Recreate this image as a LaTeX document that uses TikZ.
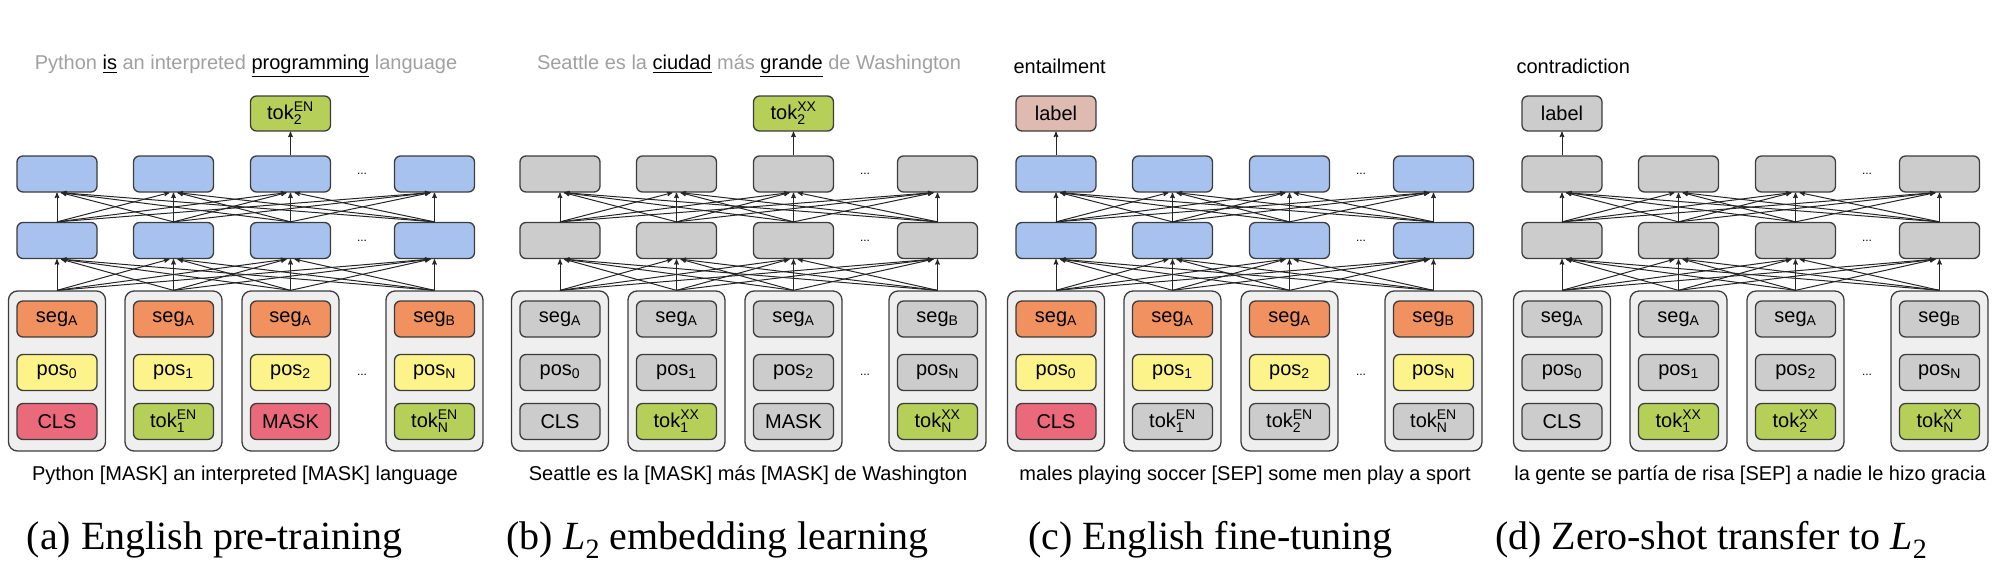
\documentclass[tikz,border=0pt]{standalone}
\usepackage{amsmath}
\usepackage{fontspec}
\setmainfont{Liberation Serif}
\setsansfont{Liberation Sans}
\usetikzlibrary{arrows,positioning}

\definecolor{boxline}{HTML}{3C3C3C}
\definecolor{layerblue}{HTML}{A7C2EE}
\definecolor{segorange}{HTML}{F0915F}
\definecolor{posyellow}{HTML}{FCF38A}
\definecolor{clspink}{HTML}{EA6A7C}
\definecolor{tokgreen}{HTML}{B5CF59}
\definecolor{labelrose}{HTML}{DFBAB0}
\definecolor{cellgrey}{HTML}{CCCCCC}
\definecolor{embgrey}{HTML}{EFEFEF}
\definecolor{textgrey}{HTML}{A0A0A0}

\newcommand{\tk}[2]{tok$^{\text{#1}}_{\text{#2}}$}
\newcommand{\ul}[1]{{\color{black}\underline{#1}}}
\newcommand{\Ltwo}{\textit{L}\raisebox{-0.22em}{\fontsize{28}{30}\selectfont 2}}

\tikzset{
  fig/.style={font=\sffamily\fontsize{20}{24}\selectfont},
  cell/.style={fig, draw=boxline, line width=1.3pt, rounded corners=6pt,
    minimum width=80pt, minimum height=36pt, inner sep=0pt},
  emb/.style={draw=boxline, line width=1.3pt, rounded corners=9pt, fill=embgrey,
    minimum width=97pt, minimum height=160pt, inner sep=0pt},
  bluecell/.style={fill=layerblue},
  greycell/.style={fill=cellgrey},
  segcell/.style={fill=segorange},
  poscell/.style={fill=posyellow},
  clscell/.style={fill=clspink},
  tokcell/.style={fill=tokgreen},
  labelcell/.style={fill=labelrose},
  link/.style={->, >=stealth', line width=1pt, draw=black!85},
  dots/.style={font=\sffamily\fontsize{12}{14}\selectfont},
  sentence/.style={fig},
  caption/.style={font=\rmfamily\fontsize{40}{48}\selectfont}
}

% #1 layer style, #2 seg style, #3 pos style
\newcommand{\encoder}[3]{%
  \foreach \i/\x/\sa/\pb in {1/57/A/0,2/173.5/A/1,3/290.5/A/2,4/434.5/B/N}{
    \node[emb] (o\i) at (\x,371) {};
    \node[cell,#2] (s\i) at (\x,319) {seg$_{\text{\sa}}$};
    \node[cell,#3] (p\i) at (\x,372.5) {pos$_{\text{\pb}}$};
    \node[cell,#1] (l\i) at (\x,240.5) {};
    \node[cell,#1] (h\i) at (\x,174) {};
  }
  \foreach \i in {1,...,4}
    \foreach \j in {1,...,4}{
      \draw[link] (o\i.north) -- ([xshift={4*sign(\i-\j)}]l\j.south);
      \draw[link] (l\i.north) -- ([xshift={4*sign(\i-\j)}]h\j.south);
    }
  \node[dots] (d1) at (362,174) {...};
  \node[dots] (d2) at (362,240.5) {...};
  \node[dots] (d3) at (362,375) {...};
}

\begin{document}
\begin{tikzpicture}[x=1pt,y=-1pt]
  \useasboundingbox (0,0) rectangle (2008,582);

  % (a) English pre-training
  \begin{scope}[name prefix=a-]
    \encoder{bluecell}{segcell}{poscell}
    \foreach \i/\x/\st/\txt in {1/57/clscell/CLS,2/173.5/tokcell/\tk{EN}{1},
        3/290.5/clscell/MASK,4/434.5/tokcell/\tk{EN}{N}}
      \node[cell,\st] (t\i) at (\x,421.5) {\txt};
    \node[cell,tokcell,minimum height=35pt] (out) at (290.5,113.5) {\tk{EN}{2}};
    \draw[link] (h3) -- (out);
    \node[sentence,text=textgrey] (top) at (246,66)
      {Python \ul{is} an interpreted \ul{programming} language};
    \node[sentence] (bottom) at (245,475) {Python [MASK] an interpreted [MASK] language};
    \node[caption] (cap) at (214.5,540) {(a) English pre-training};
  \end{scope}

  % (b) L2 embedding learning
  \begin{scope}[xshift=503pt,name prefix=b-]
    \encoder{greycell}{greycell}{greycell}
    \foreach \i/\x/\st/\txt in {1/57/greycell/CLS,2/173.5/tokcell/\tk{XX}{1},
        3/290.5/greycell/MASK,4/434.5/tokcell/\tk{XX}{N}}
      \node[cell,\st] (t\i) at (\x,421.5) {\txt};
    \node[cell,tokcell,minimum height=35pt] (out) at (290.5,113.5) {\tk{XX}{2}};
    \draw[link] (h3) -- (out);
    \node[sentence,text=textgrey] (top) at (246,66)
      {Seattle es la \ul{ciudad} más \ul{grande} de Washington};
    \node[sentence] (bottom) at (245,475) {Seattle es la [MASK] más [MASK] de Washington};
    \node[caption] (cap) at (214.5,540) {(b) \Ltwo{} embedding learning};
  \end{scope}

  % (c) English fine-tuning
  \begin{scope}[xshift=999pt,name prefix=c-]
    \encoder{bluecell}{segcell}{poscell}
    \foreach \i/\x/\st/\txt in {1/57/clscell/CLS,2/173.5/greycell/\tk{EN}{1},
        3/290.5/greycell/\tk{EN}{2},4/434.5/greycell/\tk{EN}{N}}
      \node[cell,\st] (t\i) at (\x,421.5) {\txt};
    \node[cell,labelcell,minimum height=35pt] (out) at (57,113.5) {label};
    \draw[link] (h1) -- (out);
    \node[sentence,anchor=west] (top) at (11,66) {entailment};
    \node[sentence] (bottom) at (246,475) {males playing soccer [SEP] some men play a sport};
    \node[caption] (cap) at (211.5,540) {(c) English fine-tuning};
  \end{scope}

  % (d) Zero-shot transfer to L2
  \begin{scope}[xshift=1505pt,name prefix=d-]
    \encoder{greycell}{greycell}{greycell}
    \foreach \i/\x/\st/\txt in {1/57/greycell/CLS,2/173.5/tokcell/\tk{XX}{1},
        3/290.5/tokcell/\tk{XX}{2},4/434.5/tokcell/\tk{XX}{N}}
      \node[cell,\st] (t\i) at (\x,421.5) {\txt};
    \node[cell,greycell,minimum height=35pt] (out) at (57,113.5) {label};
    \draw[link] (h1) -- (out);
    \node[sentence,anchor=west] (top) at (8,66) {contradiction};
    \node[sentence] (bottom) at (245,475) {la gente se partía de risa [SEP] a nadie le hizo gracia};
    \node[caption] (cap) at (206,540) {(d) Zero-shot transfer to \Ltwo};
  \end{scope}
\end{tikzpicture}
\end{document}
